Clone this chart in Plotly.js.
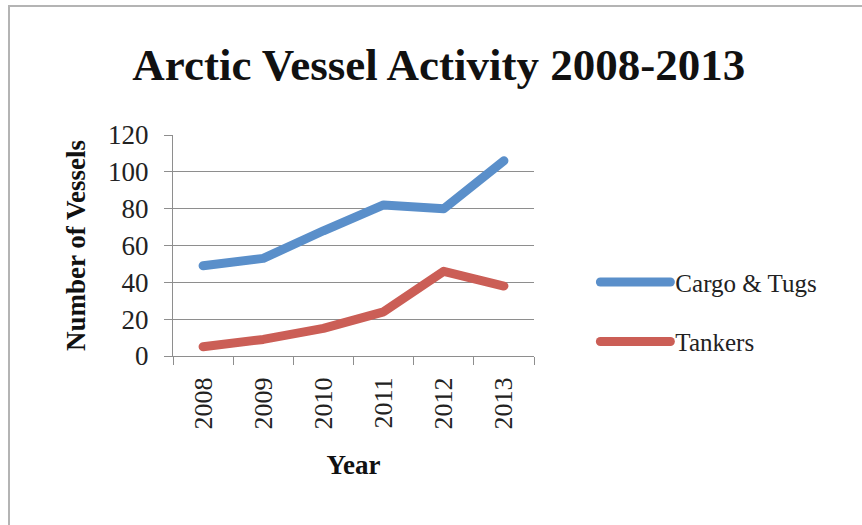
<!DOCTYPE html>
<html>
<head>
<meta charset="utf-8">
<script src="https://cdn.plot.ly/plotly-3.0.1.min.js"></script>
<style>
  html, body { margin: 0; padding: 0; background: #ffffff; }
  #wrap { position: relative; width: 862px; height: 525px; overflow: hidden; }
  /* thin grey frame around the chart sheet */
  #frame {
    position: absolute; left: 8px; top: 5px; width: 900px; height: 600px;
    border-left: 2px solid #b4b4b4; border-top: 2px solid #b4b4b4;
  }
  #chart { position: absolute; left: 0; top: 0; }
  /* rounded ends and joins on the series lines */
  .scatterlayer path.js-line, .legend path.js-line {
    stroke-linecap: round; stroke-linejoin: round;
  }
</style>
</head>
<body>
<div id="wrap">
  <div id="frame"></div>
  <div id="chart"></div>
</div>
<script>
// Vessel counts by year
const years = ['2008', '2009', '2010', '2011', '2012', '2013'];
const cargoTugs = [49, 53, 68, 82, 80, 106];
const tankers = [5, 9, 15, 24, 46, 38];
const seriesNames = ['Cargo & Tugs', 'Tankers'];
const seriesColors = ['#5a8fca', '#cb5e56'];
const yTicks = [0, 20, 40, 60, 80, 100, 120];

const serif = 'Liberation Serif, Times New Roman, serif';
const gridGrey = '#8e8e8e';

const traces = [cargoTugs, tankers].map((vals, i) => ({
  type: 'scatter',
  mode: 'lines',
  x: years,
  y: vals,
  name: seriesNames[i],
  legendgroup: 'g' + i,
  line: { color: seriesColors[i], width: 9 },
  hoverinfo: 'x+y+name'
}));

const layout = {
  width: 862,
  height: 525,
  margin: { l: 173, r: 328, t: 135, b: 169 },
  paper_bgcolor: 'rgba(0,0,0,0)',
  plot_bgcolor: 'rgba(0,0,0,0)',
  showlegend: true,
  title: {
    text: 'Arctic Vessel Activity 2008-2013',
    font: { family: serif, size: 45, weight: 'bold', color: '#111111' },
    xref: 'container', x: 0.509, xanchor: 'center',
    yref: 'container', y: 0.878, yanchor: 'middle'
  },
  xaxis: {
    type: 'category',
    categoryorder: 'array',
    categoryarray: years,
    range: [-0.5, years.length - 0.5],
    tickson: 'boundaries',
    ticks: 'outside',
    ticklen: 8,
    tickwidth: 1,
    tickcolor: gridGrey,
    tickangle: -90,
    ticklabelstandoff: 10,
    tickfont: { family: serif, size: 26, color: '#222222' },
    showline: true,
    linecolor: gridGrey,
    linewidth: 1,
    showgrid: false,
    zeroline: false,
    title: {
      text: 'Year',
      font: { family: serif, size: 27, weight: 'bold', color: '#111111' },
      standoff: 26
    }
  },
  yaxis: {
    range: [0, 120],
    tickvals: yTicks,
    ticktext: yTicks.map(String),
    ticks: 'outside',
    ticklen: 8,
    tickwidth: 1,
    tickcolor: gridGrey,
    ticklabelstandoff: 10,
    tickfont: { family: serif, size: 27, color: '#222222' },
    showline: true,
    linecolor: gridGrey,
    linewidth: 1,
    showgrid: true,
    gridcolor: gridGrey,
    gridwidth: 1,
    zeroline: false,
    title: {
      text: 'Number of Vessels',
      font: { family: serif, size: 27, weight: 'bold', color: '#111111' },
      standoff: 14
    }
  },
  legend: {
    x: 1.17, xanchor: 'left',
    y: 0.20, yanchor: 'middle',
    traceorder: 'grouped',
    tracegroupgap: 24,
    itemwidth: 70,
    bgcolor: 'rgba(0,0,0,0)',
    font: { family: serif, size: 25, color: '#222222' }
  }
};

Plotly.newPlot('chart', traces, layout, { displayModeBar: false, staticPlot: true });
</script>
</body>
</html>
